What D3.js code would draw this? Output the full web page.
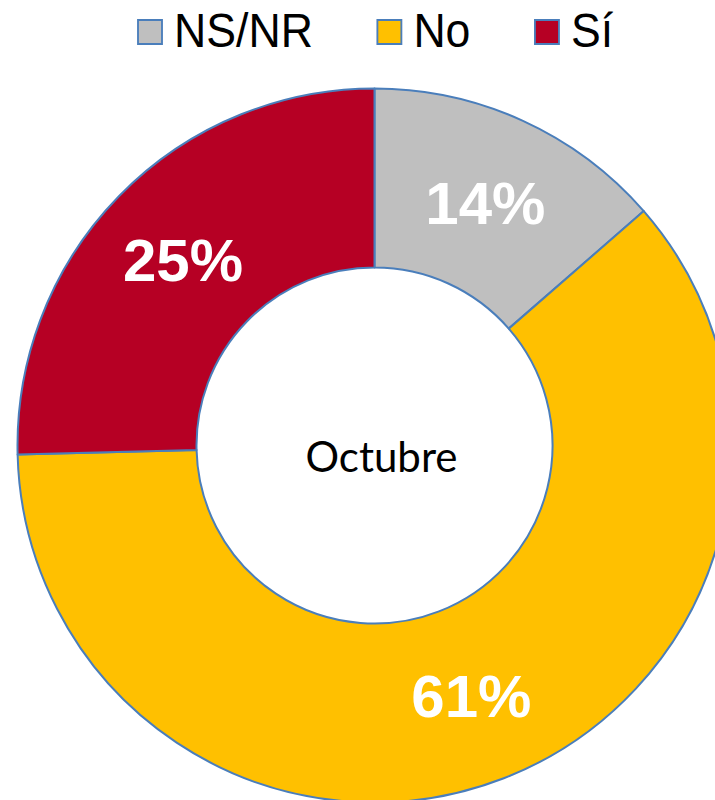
<!DOCTYPE html>
<html>
<head>
<meta charset="utf-8">
<script src="https://cdn.jsdelivr.net/npm/d3@7"></script>
<style>
  body { margin: 0; background: #fff; }
  svg { display: block; overflow: hidden; }
</style>
</head>
<body>
<svg id="chart"></svg>
<script>
// Data (slice order is clockwise from 12 o'clock)
const categories = ['NS/NR', 'No', 'Sí'];
const values = [13.6, 61.0, 25.4];
const valueLabels = ['14%', '61%', '25%'];
const centerLabel = 'Octubre';

const colors = ['#bfbfbf', '#ffc000', '#b60024'];
const strokeColor = '#4a7ebb';

const width = 715, height = 800;
const cx = 374.5, cy = 445.5;
const outerR = 357, innerR = 178;

const svg = d3.select('#chart')
    .attr('width', width)
    .attr('height', height);

const data = categories.map((c, i) => ({ name: c, value: values[i], label: valueLabels[i], color: colors[i] }));

// Donut
const pie = d3.pie()
    .value(d => d.value)
    .sort(null);

const arc = d3.arc()
    .innerRadius(innerR)
    .outerRadius(outerR);

const chart = svg.append('g')
    .attr('transform', `translate(${cx},${cy})`);

const arcs = pie(data);

chart.selectAll('.slice')
    .data(arcs)
  .join('path')
    .attr('class', 'slice')
    .attr('d', arc)
    .attr('fill', d => d.data.color)
    .attr('stroke', strokeColor)
    .attr('stroke-width', 2)
    .attr('stroke-linejoin', 'round');

// Percent labels at the arc centroid
chart.selectAll('.pct')
    .data(arcs)
  .join('text')
    .attr('class', 'pct')
    .attr('x', d => arc.centroid(d)[0])
    .attr('y', d => arc.centroid(d)[1] + 22)
    .attr('text-anchor', 'middle')
    .style('font-family', '"Liberation Sans", Arial, sans-serif')
    .style('font-weight', 'bold')
    .style('font-size', '60px')
    .style('fill', '#fff')
    .text(d => d.data.label);

// Centre label
chart.append('text')
    .attr('x', 7)
    .attr('y', 26.5)
    .attr('text-anchor', 'middle')
    .style('font-family', 'Lato, "Open Sans", sans-serif')
    .style('font-size', '42px')
    .style('fill', '#000')
    .text(centerLabel);

// Legend
const legend = svg.append('g')
    .attr('transform', 'translate(138,0) scale(0.93,1)');

let xPos = 0;
data.forEach(d => {
  const g = legend.append('g').attr('transform', `translate(${xPos},0)`);
  g.append('rect')
      .attr('x', 0)
      .attr('y', 20)
      .attr('width', 24 / 0.93)
      .attr('height', 24)
      .attr('fill', d.color)
      .attr('stroke', strokeColor)
      .attr('stroke-width', 2);
  const t = g.append('text')
      .attr('x', 36 / 0.93)
      .attr('y', 47)
      .style('font-family', '"Liberation Sans", Arial, sans-serif')
      .style('font-size', '48px')
      .style('fill', '#000')
      .text(d.name);
  xPos += 36 / 0.93 + t.node().getComputedTextLength() + 64.5 / 0.93;
});
</script>
</body>
</html>
